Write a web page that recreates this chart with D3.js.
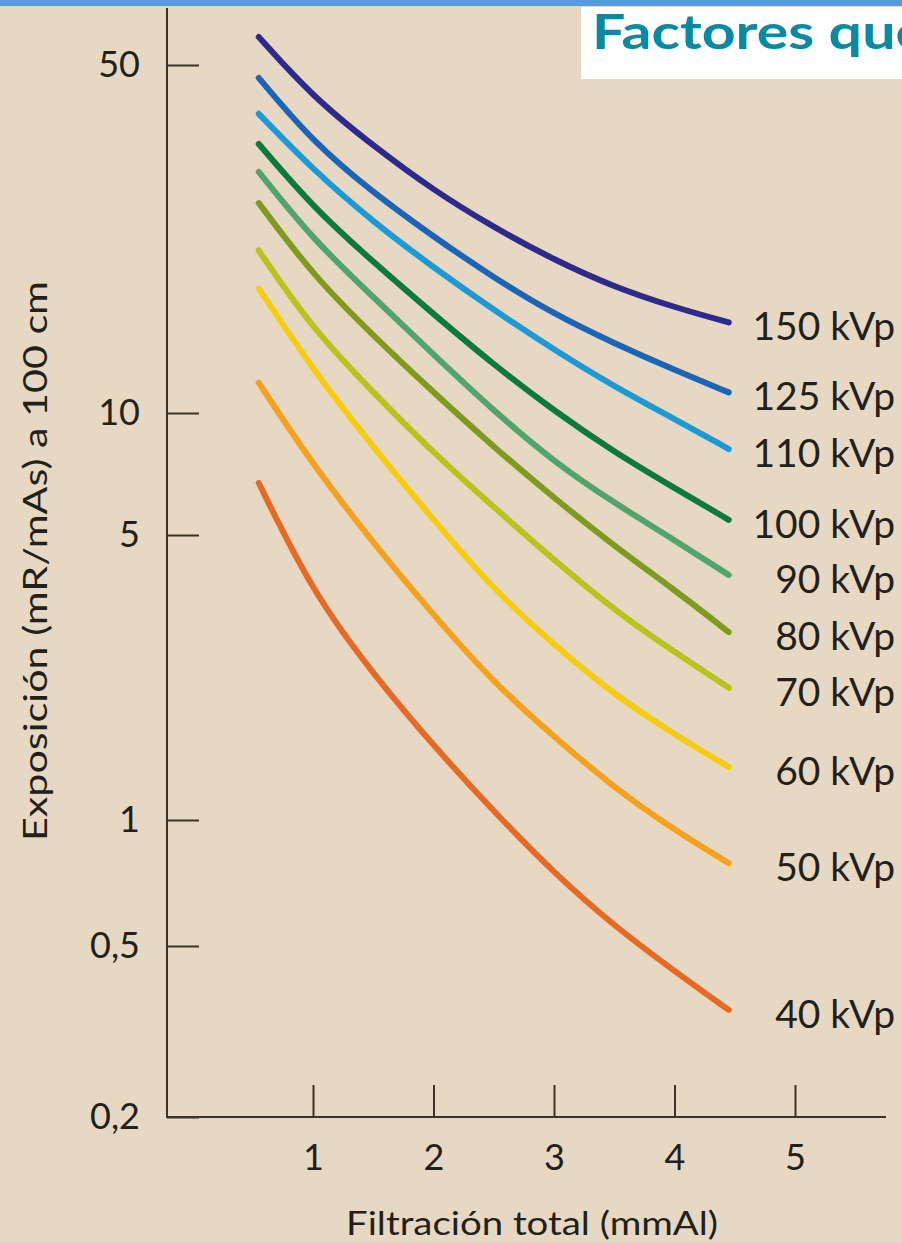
<!DOCTYPE html>
<html>
<head>
<meta charset="utf-8">
<script src="https://cdn.jsdelivr.net/npm/d3@7"></script>
<style>
  body { margin: 0; background: #e6d8c2; }
  svg { display: block; }
  text { font-family: "Lato", "Liberation Sans", sans-serif; fill: #231f1a; }
</style>
</head>
<body>
<script>
const W = 902, H = 1243;

// filtración total (mmAl) sampled along every curve
const filtration = [0.55, 1, 1.5, 2, 2.5, 3, 3.5, 4, 4.45];

// exposición (mR/mAs)
const kvp150 = [56.9, 43.1, 34.4, 28.0, 23.6, 20.3, 17.9, 16.3, 15.2];
const kvp125 = [47.1, 35.0, 27.7, 22.6, 18.7, 15.8, 13.8, 12.2, 11.0];
const kvp110 = [39.9, 30.8, 24.2, 19.6, 16.1, 13.4, 11.3, 9.67, 8.15];
const kvp100 = [34.7, 25.9, 20.1, 15.8, 12.5, 10.1, 8.01, 6.53, 5.45];
const kvp90  = [30.5, 22.3, 17.1, 13.1, 10.1, 7.57, 6.00, 4.86, 3.99];
const kvp80  = [26.4, 18.9, 14.3, 11.0, 8.24, 6.17, 4.70, 3.67, 2.89];
const kvp70  = [21.2, 14.7, 11.0, 7.97, 5.86, 4.34, 3.27, 2.58, 2.11];
const kvp60  = [17.8, 12.2, 8.24, 5.45, 3.67, 2.69, 2.03, 1.62, 1.35];
const kvp50  = [11.5, 7.44, 4.78, 3.18, 2.17, 1.60, 1.20, 0.946, 0.789];
const kvp40  = [6.72, 3.60, 2.28, 1.52, 1.05, 0.747, 0.558, 0.437, 0.355];

const seriesNames = ["150 kVp", "125 kVp", "110 kVp", "100 kVp", "90 kVp",
                     "80 kVp", "70 kVp", "60 kVp", "50 kVp", "40 kVp"];
const seriesValues = [kvp150, kvp125, kvp110, kvp100, kvp90, kvp80, kvp70, kvp60, kvp50, kvp40];
const colors = ["#2d2a8c", "#1b64b6", "#1d9ad6", "#0b7a3b", "#50a46c",
                "#7f9a1f", "#b7c41b", "#f6cb10", "#f4a11d", "#e46a25"];

const yTicks = [50, 10, 5, 1, 0.5, 0.2];
const yTickLabels = ["50", "10", "5", "1", "0,5", "0,2"];
const xTicks = [1, 2, 3, 4, 5];

const svg = d3.select("body").append("svg").attr("width", W).attr("height", H);

// background + header band
svg.append("rect").attr("width", W).attr("height", H).attr("fill", "#e6d8c2");
svg.append("rect").attr("width", W).attr("height", 6).attr("fill", "#5b9bd5");
svg.append("rect").attr("x", 581).attr("y", 7).attr("width", W - 581).attr("height", 72).attr("fill", "#ffffff");
svg.append("text").attr("x", 592).attr("y", 49)
   .attr("textLength", 335).attr("lengthAdjust", "spacingAndGlyphs")
   .style("font-family", "Lato, sans-serif").style("font-weight", "700").style("font-size", "48px")
   .style("fill", "#0a8aa2").text("Factores que");

// scales (the printed log axis is not evenly spaced, so the log scale is piecewise)
const xScale = d3.scaleLinear().domain([1, 5]).range([313, 795]);
const yScale = d3.scaleLog()
    .domain([0.2, 0.5, 1, 5, 10, 50])
    .range([1117, 946, 820, 535, 413, 65]);

// axes
const axisColor = "#3b342b";
svg.append("line").attr("x1", 167).attr("x2", 167).attr("y1", 8).attr("y2", 1118)
   .attr("stroke", axisColor).attr("stroke-width", 2);
svg.append("line").attr("x1", 166).attr("x2", 886).attr("y1", 1117).attr("y2", 1117)
   .attr("stroke", axisColor).attr("stroke-width", 2);

const yAxis = d3.axisLeft(yScale).tickValues(yTicks)
    .tickFormat((d, i) => yTickLabels[i]).tickSize(-32).tickSizeOuter(0).tickPadding(27);
const gy = svg.append("g").attr("transform", "translate(167,0)").call(yAxis);
gy.select(".domain").remove();
gy.selectAll(".tick line").attr("stroke", axisColor).attr("stroke-width", 2);
gy.selectAll(".tick text").style("font-size", "36px").style("font-family", "Lato, sans-serif").attr("fill", "#231f1a");

const xAxis = d3.axisBottom(xScale).tickValues(xTicks)
    .tickFormat(d3.format("d")).tickSize(-32).tickSizeOuter(0).tickPadding(27);
const gx = svg.append("g").attr("transform", "translate(0,1117)").call(xAxis);
gx.select(".domain").remove();
gx.selectAll(".tick line").attr("stroke", axisColor).attr("stroke-width", 2);
gx.selectAll(".tick text").style("font-size", "36px").style("font-family", "Lato, sans-serif").attr("fill", "#231f1a");

// axis titles
svg.append("text")
   .attr("transform", "translate(47,561) rotate(-90)")
   .attr("text-anchor", "middle")
   .attr("textLength", 560).attr("lengthAdjust", "spacingAndGlyphs")
   .style("font-size", "32px")
   .text("Exposición (mR/mAs) a 100 cm");

svg.append("text")
   .attr("x", 532).attr("y", 1235)
   .attr("text-anchor", "middle")
   .attr("textLength", 372).attr("lengthAdjust", "spacingAndGlyphs")
   .style("font-size", "33px")
   .text("Filtración total (mmAl)");

// curves
const line = d3.line()
    .x((d, i) => xScale(filtration[i]))
    .y(d => yScale(d))
    .curve(d3.curveBasis);

svg.append("g").selectAll("path")
   .data(seriesValues)
   .enter()
   .append("path")
   .attr("d", d => line(d))
   .attr("fill", "none")
   .attr("stroke", (d, i) => colors[i])
   .attr("stroke-width", 6)
   .attr("stroke-linecap", "round");

// curve labels at the right end
svg.append("g").selectAll("text")
   .data(seriesValues)
   .enter()
   .append("text")
   .attr("x", 895)
   .attr("y", d => yScale(d[d.length - 1]))
   .attr("dy", "0.46em")
   .attr("text-anchor", "end")
   .style("font-size", "39px")
   .text((d, i) => seriesNames[i]);
</script>
</body>
</html>
